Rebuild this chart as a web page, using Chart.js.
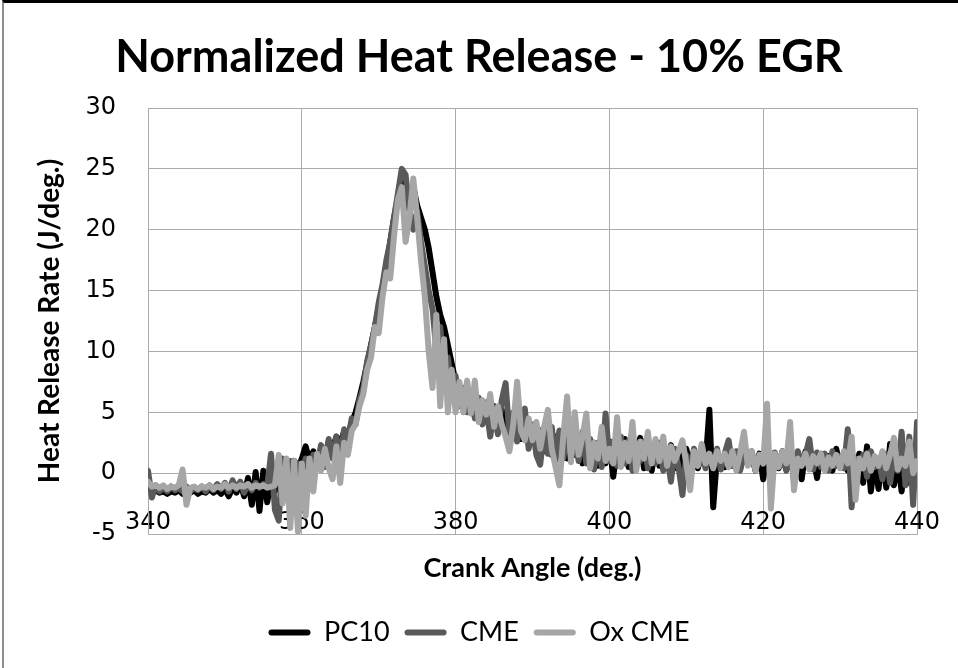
<!DOCTYPE html>
<html>
<head>
<meta charset="utf-8">
<script src="https://cdn.jsdelivr.net/npm/chart.js@4.4.1/dist/chart.umd.min.js"></script>
<style>
  html, body { margin: 0; padding: 0; background: #fff; }
  #wrap { position: relative; width: 958px; height: 668px; overflow: hidden; }
  #frame { position: absolute; left: 2px; top: 0; right: 0; bottom: 0;
           border-top: 3px solid #000; border-left: 2px solid #8c8c8c; pointer-events: none; }
  canvas { display: block; }
</style>
</head>
<body>
<div id="wrap">
  <canvas id="chart" width="958" height="668"></canvas>
  <div id="frame"></div>
</div>
<script>
// Crank angle samples (deg.), half-degree resolution
const crankAngle = [
  340, 340.5, 341, 341.5, 342, 342.5, 343, 343.5, 344, 344.5,
  345, 345.5, 346, 346.5, 347, 347.5, 348, 348.5, 349, 349.5,
  350, 350.5, 351, 351.5, 352, 352.5, 353, 353.5, 354, 354.5,
  355, 355.5, 356, 356.5, 357, 357.5, 358, 358.5, 359, 359.5,
  360, 360.5, 361, 361.5, 362, 362.5, 363, 363.5, 364, 364.5,
  365, 365.5, 366, 366.5, 367, 367.5, 368, 368.5, 369, 369.5,
  370, 370.5, 371, 371.5, 372, 372.5, 373, 373.5, 374, 374.5,
  375, 375.5, 376, 376.5, 377, 377.5, 378, 378.5, 379, 379.5,
  380, 380.5, 381, 381.5, 382, 382.5, 383, 383.5, 384, 384.5,
  385, 385.5, 386, 386.5, 387, 387.5, 388, 388.5, 389, 389.5,
  390, 390.5, 391, 391.5, 392, 392.5, 393, 393.5, 394, 394.5,
  395, 395.5, 396, 396.5, 397, 397.5, 398, 398.5, 399, 399.5,
  400, 400.5, 401, 401.5, 402, 402.5, 403, 403.5, 404, 404.5,
  405, 405.5, 406, 406.5, 407, 407.5, 408, 408.5, 409, 409.5,
  410, 410.5, 411, 411.5, 412, 412.5, 413, 413.5, 414, 414.5,
  415, 415.5, 416, 416.5, 417, 417.5, 418, 418.5, 419, 419.5,
  420, 420.5, 421, 421.5, 422, 422.5, 423, 423.5, 424, 424.5,
  425, 425.5, 426, 426.5, 427, 427.5, 428, 428.5, 429, 429.5,
  430, 430.5, 431, 431.5, 432, 432.5, 433, 433.5, 434, 434.5,
  435, 435.5, 436, 436.5, 437, 437.5, 438, 438.5, 439, 439.5,
  440
];

// Heat release rate (J/deg.) for each fuel
const pc10 = [
  -1.0, -1.3, -1.4, -1.6, -1.5, -1.7, -1.5, -1.6, -1.4, -1.7,
  -1.5, -1.6, -1.4, -1.7, -1.5, -1.6, -1.3, -1.6, -1.4, -1.7,
  -1.3, -1.9, -1.2, -1.6, -0.8, -1.9, -0.4, -2.6, 0.1, -3.1,
  0.2, -2.4, -0.6, -1.5, 0.5, -1.0, 0.8, 0.2, 1.0, 0.4,
  1.2, 2.2, 1.0, 1.8, 1.1, 2.0, 1.4, 2.6, 2.0, 3.0,
  2.4, 3.4, 3.0, 4.2, 5.0, 6.2, 7.5, 9.0, 10.5, 12.0,
  13.5, 15.0, 17.0, 19.0, 21.0, 22.5, 24.0, 23.0, 22.0, 23.5,
  22.0, 21.0, 20.0, 18.5, 16.5, 14.5, 13.0, 12.0, 10.5, 9.0,
  7.5, 6.0, 7.0, 5.5, 6.5, 5.0, 6.0, 4.8, 5.8, 4.5,
  5.5, 4.0, 5.2, 3.5, 4.5, 3.0, 4.2, 2.8, 4.0, 2.5,
  3.8, 2.0, 3.5, 1.8, 3.2, 1.5, 3.0, 1.8, 2.8, 1.2,
  3.0, 1.5, 2.6, 0.8, 2.8, 1.0, 2.5, 0.6, 2.4, 0.8,
  2.6, -0.3, 2.2, 1.0, 2.8, 0.5, 2.6, 0.8, 2.9, 0.4,
  2.5, 0.2, 2.4, 0.6, 2.2, 0.5, 2.3, 0.4, 1.8, 0.0,
  2.0, 0.6, 1.8, 0.4, 1.6, 0.8, 5.2, -2.8, 1.4, 0.6,
  0.5, 1.8, 0.6, 1.5, 0.4, 1.8, 0.8, 1.5, 0.2, 1.6,
  -0.5, 1.5, -0.8, 1.6, 0.4, 1.8, 0.3, 2.0, -0.6, 1.4,
  -0.5, 1.8, 0.6, 1.5, -0.4, 1.6, 0.8, 1.4, 0.2, 2.0,
  0.5, 1.5, 0.2, 1.8, 0.0, 1.6, -0.8, 2.2, -1.5, 1.0,
  -1.3, 1.5, -1.2, 2.4, -1.0, 1.0, -1.5, 1.8, -0.8, 2.0,
  1.2
];

const cme = [
  0.2, -2.0, -1.0, -1.5, -1.2, -1.5, -1.1, -1.4, -1.2, -1.5,
  -1.1, -1.5, -1.2, -1.4, -1.1, -1.5, -1.0, -1.4, -0.9, -1.3,
  -0.8, -1.5, -0.6, -1.3, -0.7, -1.6, -0.9, -1.4, -0.8, -1.2,
  -0.9, -1.1, 1.6, -3.0, -3.9, 1.2, -0.5, 1.0, -1.0, 0.8,
  0.0, 1.2, 0.3, 1.5, 0.6, 2.3, 0.5, 2.8, 1.2, 3.0,
  1.0, 3.6, 2.8, 4.5, 4.0, 6.0, 7.0, 9.2, 10.5, 12.0,
  14.0, 15.5, 17.5, 19.0, 21.0, 23.0, 25.0, 24.5, 21.5, 20.0,
  21.5, 19.0, 17.0, 15.0, 13.5, 10.0, 12.0, 8.0, 9.5, 6.5,
  8.0, 5.5, 7.0, 5.0, 6.5, 4.5, 6.2, 4.0, 5.5, 3.0,
  5.0, 3.2, 6.0, 7.4, 3.0, 5.0, 2.6, 4.5, 5.3, 2.0,
  4.0, 1.5, 0.7, 3.5, 1.6, 3.8, 1.0, 3.5, 1.2, 3.2,
  1.4, 3.0, 1.0, 3.4, 0.8, 2.8, 0.3, 2.5, 0.5, 4.9,
  1.0, 2.6, 0.6, 3.0, 0.8, 2.7, 0.2, 2.4, 1.0, 2.6,
  0.4, 2.2, 0.8, 2.5, 0.2, 1.5, -0.7, 2.0, 0.5, -1.8,
  1.5, 0.3, 2.0, 0.6, 1.8, 0.4, 1.5, 0.5, 2.0, 0.3,
  1.6, 2.7, 0.6, 1.8, 0.2, 1.6, 0.7, 1.8, 0.4, 1.5,
  0.8, 1.9, 0.3, 1.7, 0.6, 1.4, 0.2, 1.6, 0.5, 1.8,
  0.8, 1.5, 2.8, 0.3, 1.7, 0.5, 1.6, 0.2, 1.8, 0.6,
  1.4, 0.4, 3.6, -2.8, 1.2, 0.3, 1.5, -0.3, 1.8, 0.5,
  1.2, -0.5, 1.6, -0.8, 1.4, 0.2, 3.4, -1.0, 3.0, -2.6,
  4.2
];

const oxCme = [
  -0.7, -1.1, -1.0, -1.2, -1.0, -1.3, -1.1, -1.2, -1.0, 0.3,
  -2.6, -1.2, -1.1, -1.3, -1.1, -1.2, -1.0, -1.3, -1.1, -1.2,
  -0.9, -1.2, -1.0, -1.2, -1.0, -1.1, -0.9, -1.2, -1.0, -1.1,
  -1.0, -1.2, -1.1, -1.0, 1.5, -2.5, 1.2, -4.5, 1.0, -4.8,
  0.8, -3.5, 1.2, -1.5, 1.6, 0.2, 2.0, 0.4, -0.5, 2.2,
  -0.8, 2.5, 1.5, 3.5, 4.0, 5.5, 6.5, 8.5, 9.5, 12.0,
  11.5, 14.5, 16.5, 16.0, 19.5, 22.5, 23.5, 19.0, 21.0, 24.2,
  21.0, 17.5, 14.5, 10.0, 7.0, 13.0, 5.5, 11.0, 5.0, 8.5,
  5.0, 7.5, 5.0, 7.6, 4.9, 7.6, 4.2, 6.0, 4.8, 6.5,
  3.8, 5.5, 4.0, 3.0, 1.8, 4.0, 7.5, 3.5, 2.7, 4.5,
  2.7, 4.2, 2.0, 3.8, 5.2, 2.0, 0.5, -1.0, 3.0, 6.3,
  0.9, 5.0, 1.5, 3.0, 4.9, 0.4, 2.5, 1.2, 3.8, 1.0,
  2.0, 0.8, 4.6, 0.5, 2.5, 1.0, 4.2, 0.2, 2.6, 1.2,
  3.4, 0.8, 2.8, 1.0, 3.0, 0.6, 2.2, 1.0, 1.8, 2.7,
  0.8, -1.4, 1.8, 0.6, 2.4, 0.8, 1.6, 0.4, 1.8, 1.0,
  1.6, 0.5, 1.8, 0.2, 1.6, 3.4, 0.6, 1.8, 0.2, 1.5,
  0.8, 5.7, -2.9, 1.6, 0.5, 1.8, 0.8, 4.2, -1.4, 1.2,
  0.6, 1.6, 0.3, 1.4, 0.8, 1.6, 0.2, 1.3, 0.6, 1.5,
  0.4, 1.8, 0.8, 3.0, -2.2, 1.2, 0.4, 1.6, 0.2, 1.4,
  0.6, 1.8, 0.4, 1.5, 2.9, 0.3, 1.2, 0.6, 2.6, 0.0,
  1.0
];

const seriesNames = ['PC10', 'CME', 'Ox CME'];
const seriesColors = ['#000000', '#5a5a5a', '#a6a6a6'];
const seriesValues = [pc10, cme, oxCme];

const xTicks = [340, 360, 380, 400, 420, 440];
const yTicks = [-5, 0, 5, 10, 15, 20, 25, 30];

const gridColor = '#ababab';
const labelFont = 'Lato, "Liberation Sans", sans-serif';
const tickFont = '"DejaVu Sans", Verdana, sans-serif';

const datasets = seriesValues.map((vals, i) => ({
  label: seriesNames[i],
  data: crankAngle.map((a, k) => ({ x: a, y: vals[k] })),
  borderColor: seriesColors[i],
  backgroundColor: seriesColors[i],
  borderWidth: 6,
  borderCapStyle: 'round',
  borderJoinStyle: 'round',
  pointRadius: 0,
  tension: 0,
  // later series are painted over earlier ones
  order: seriesValues.length - i
}));

new Chart(document.getElementById('chart'), {
  type: 'line',
  data: { datasets },
  options: {
    responsive: false,
    animation: false,
    devicePixelRatio: 1,
    layout: { padding: { left: 0, right: 0, top: 0, bottom: 12 } },
    plugins: {
      tooltip: { enabled: false },
      title: {
        display: true,
        text: 'Normalized Heat Release - 10% EGR',
        color: '#000',
        font: { family: labelFont, size: 45, weight: 'bold', lineHeight: 1.2 },
        padding: { top: 30, bottom: 24 }
      },
      legend: {
        position: 'bottom',
        labels: {
          color: '#000',
          font: { family: labelFont, size: 27 },
          boxWidth: 42,
          boxHeight: 6,
          padding: 15,
          useBorderRadius: true,
          borderRadius: 3,
          generateLabels: (chart) => chart.data.datasets.map((ds, i) => ({
            text: ds.label,
            fillStyle: ds.borderColor,
            strokeStyle: ds.borderColor,
            fontColor: '#000',
            lineWidth: 0,
            borderRadius: 3,
            hidden: false,
            datasetIndex: i
          }))
        }
      }
    },
    scales: {
      x: {
        type: 'linear',
        position: 'bottom',
        min: xTicks[0],
        max: xTicks[xTicks.length - 1],
        afterBuildTicks: (s) => { s.ticks = xTicks.map(v => ({ value: v })); },
        afterFit: (s) => { s.height = 70; },
        grid: { color: gridColor, lineWidth: 1, drawTicks: false },
        border: { color: gridColor, width: 1 },
        ticks: {
          color: '#000',
          font: { family: tickFont, size: 24 },
          mirror: true,
          padding: -3,
          maxRotation: 0,
          autoSkip: false
        },
        title: {
          display: true,
          text: 'Crank Angle (deg.)',
          color: '#000',
          font: { family: labelFont, size: 27, weight: 'bold', lineHeight: 1.2 },
          padding: { top: 0, bottom: 20 }
        }
      },
      y: {
        type: 'linear',
        position: 'left',
        min: yTicks[0],
        max: yTicks[yTicks.length - 1],
        afterBuildTicks: (s) => { s.ticks = yTicks.map(v => ({ value: v })); },
        afterFit: (s) => { s.width = 148; },
        grid: { color: gridColor, lineWidth: 1, drawTicks: false },
        border: { color: gridColor, width: 1 },
        ticks: {
          color: '#000',
          font: { family: tickFont, size: 24 },
          padding: 32
        },
        title: {
          display: true,
          text: 'Heat Release Rate (J/deg.)',
          color: '#000',
          font: { family: labelFont, size: 28, weight: 'bold', lineHeight: 1.2 },
          padding: { top: 33, bottom: 0 }
        }
      },
      // empty right-hand margin so the plot ends where the right edge should be
      yMargin: {
        type: 'linear',
        position: 'right',
        display: true,
        afterFit: (s) => { s.width = 41; },
        grid: { display: false },
        border: { display: false },
        ticks: { display: false },
        title: { display: false }
      }
    }
  }
});
</script>
</body>
</html>
